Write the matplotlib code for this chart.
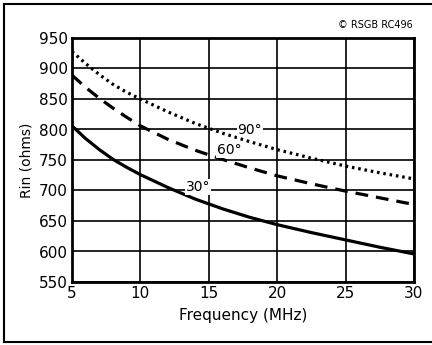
import matplotlib
matplotlib.use('Agg')
import matplotlib.pyplot as plt
from matplotlib.lines import Line2D

# frequency points (MHz) and input resistance
freq = [5, 6, 7, 8, 9, 10, 12, 14, 16, 18, 20, 22.5, 25, 27.5, 30]
rin_30 = [806, 785, 767, 751, 738, 726, 705, 686, 670, 656, 644, 631, 619, 607, 596]
rin_60 = [889, 869, 851, 835, 820, 806, 784, 766, 751, 737, 724, 711, 699, 688, 677]
rin_90 = [928, 908, 890, 874, 861, 850, 829, 810, 794, 780, 767, 753, 740, 729, 719]

x_ticks = [5, 10, 15, 20, 25, 30]
y_ticks = [550, 600, 650, 700, 750, 800, 850, 900, 950]

W, H = 432, 345
fig = plt.figure(figsize=(W / 100, H / 100), dpi=100, facecolor='white')
ax = fig.add_axes([72 / W, 1 - 282 / H, (414 - 72) / W, (282 - 38) / H])

ax.plot(freq, rin_30, color='black', lw=2.3, solid_capstyle='butt')
ax.plot(freq, rin_60, color='black', lw=2.3, linestyle=(0, (4, 2.5)))
ax.plot(freq, rin_90, color='black', lw=2.3, linestyle=(0, (0.8, 1.2)))

lbl = dict(fontsize=10, ha='center', va='center',
           bbox=dict(facecolor='white', edgecolor='none', pad=0.5))
ax.text(18.0, 800, '90°', **lbl)
ax.text(16.5, 766, '60°', **lbl)
ax.text(14.2, 706, '30°', **lbl)

ax.set_xlim(5, 30)
ax.set_ylim(550, 950)
ax.set_xticks(x_ticks)
ax.set_yticks(y_ticks)
ax.grid(True, color='black', lw=1.2)
ax.set_axisbelow(True)
for s in ax.spines.values():
    s.set_linewidth(2)
ax.tick_params(length=0, labelsize=11, pad=3)
ax.set_xlabel('Frequency (MHz)', fontsize=11, labelpad=5)
ax.set_ylabel('Rin (ohms)', fontsize=10, labelpad=4)

fig.text(375 / W, 1 - 25 / H, '© RSGB RC496', fontsize=7, ha='center', va='center')

# outer frame (right edge is off the picture)
fig.add_artist(Line2D([4 / W, 4 / W], [1 - 4 / H, 1 - 342 / H], color='black', lw=1.5,
                      transform=fig.transFigure))
fig.add_artist(Line2D([4 / W, 1], [1 - 4 / H, 1 - 4 / H], color='black', lw=1.5,
                      transform=fig.transFigure))
fig.add_artist(Line2D([4 / W, 1], [1 - 342 / H, 1 - 342 / H], color='black', lw=1.5,
                      transform=fig.transFigure))

fig.savefig('out.png', dpi=100, facecolor='white')
